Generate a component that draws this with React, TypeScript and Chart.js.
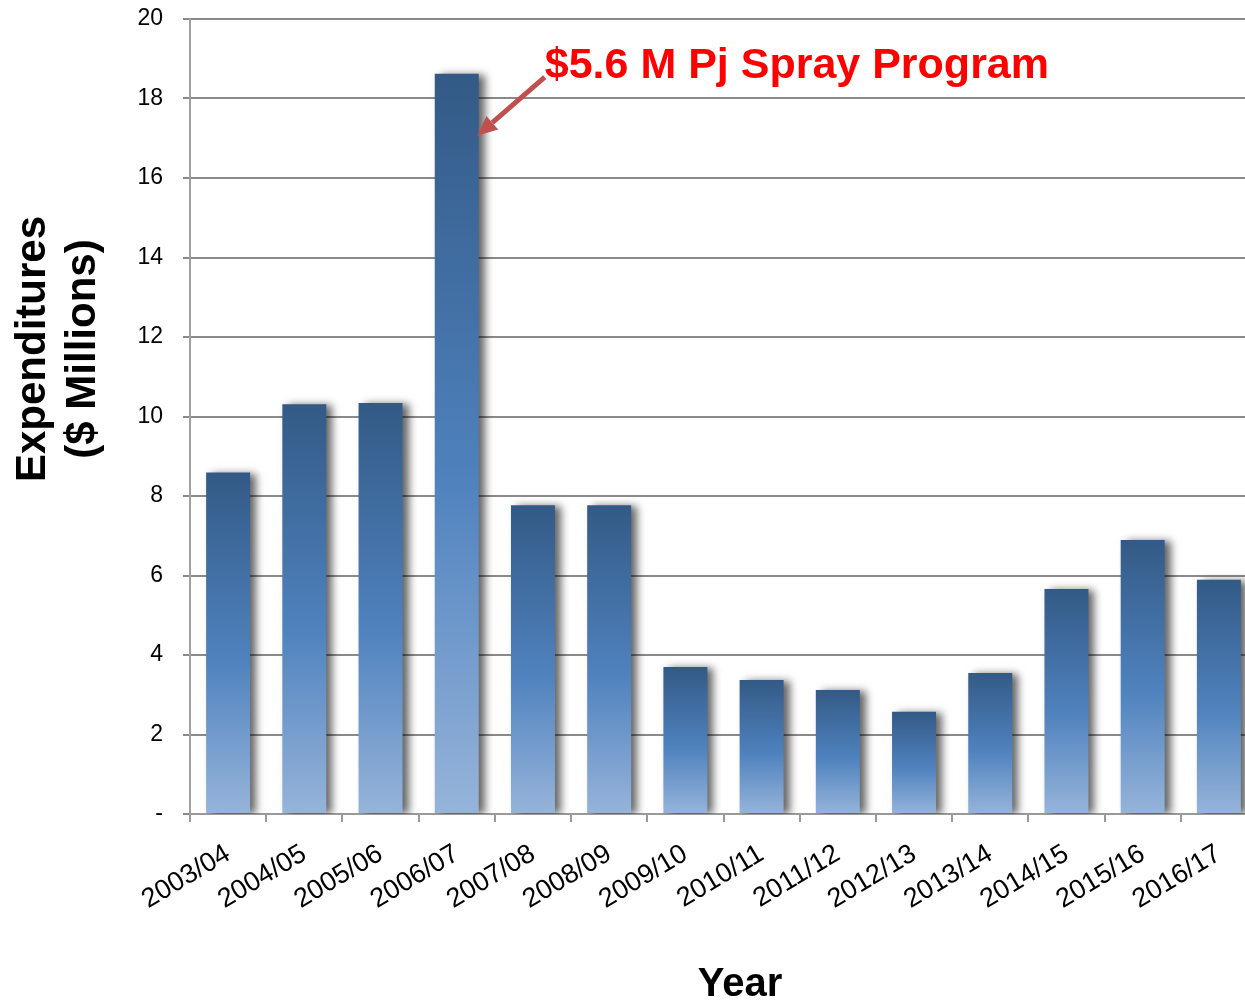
import React, { useEffect, useRef } from 'react';
import { Chart, registerables } from 'chart.js';

Chart.register(...registerables);

const FONT = "'Liberation Sans', Arial, Helvetica, sans-serif";

const categories = [
  '2003/04', '2004/05', '2005/06', '2006/07', '2007/08', '2008/09', '2009/10',
  '2010/11', '2011/12', '2012/13', '2013/14', '2014/15', '2015/16', '2016/17',
];
const expenditures = [8.59, 10.31, 10.34, 18.62, 7.77, 7.77, 3.7, 3.37, 3.12, 2.57, 3.55, 5.66, 6.89, 5.89];

const yMin = 0;
const yMax = 20;
const yStep = 2;
const zeroTickLabel = '-';

const yTitleLines = ['Expenditures', '($ Millions)'];
const xTitle = 'Year';
const annotationText = '$5.6 M Pj Spray Program';
const annotationIndex = 3;
const annotationTipValue = 17.06;
const annotationTailValue = 18.54;
const annotationTextValue = 18.52;

const BAR_PCT = 0.577;

const shadowPlugin = {
  id: 'barShadow',
  beforeDatasetsDraw(chart: any) {
    const c = chart.ctx;
    c.save();
    c.shadowColor = 'rgba(0,0,0,0.6)';
    c.shadowBlur = 8;
    c.shadowOffsetX = 6;
    c.shadowOffsetY = 1;
  },
  afterDatasetsDraw(chart: any) {
    chart.ctx.restore();
  },
};

const textPlugin = {
  id: 'texts',
  afterDraw(chart: any) {
    const { ctx } = chart;
    const x = chart.scales.x;
    const y = chart.scales.y;

    // Y title
    ctx.save();
    ctx.fillStyle = '#000';
    ctx.font = `bold 42px ${FONT}`;
    ctx.textAlign = 'center';
    ctx.textBaseline = 'middle';
    ctx.translate(58, 349);
    ctx.rotate(-Math.PI / 2);
    ctx.fillText(yTitleLines[0], 0, -25);
    ctx.fillText(yTitleLines[1], 0, 25);
    ctx.restore();

    // X title
    ctx.save();
    ctx.fillStyle = '#000';
    ctx.font = `bold 40px ${FONT}`;
    ctx.textAlign = 'center';
    ctx.textBaseline = 'alphabetic';
    ctx.fillText(xTitle, 740, 996);
    ctx.restore();

    // Annotation
    const catW = x.width / categories.length;
    const cx = x.getPixelForValue(annotationIndex);
    const barRight = cx + (catW * BAR_PCT) / 2;
    const tipX = barRight - 1.5;
    const tipY = y.getPixelForValue(annotationTipValue);
    const tailX = cx + 88;
    const tailY = y.getPixelForValue(annotationTailValue);

    ctx.save();
    ctx.strokeStyle = '#C0504D';
    ctx.fillStyle = '#C0504D';
    const ang = Math.atan2(tipY - tailY, tipX - tailX);
    const headLen = 20;
    const headHalf = 9;
    const baseX = tipX - headLen * Math.cos(ang);
    const baseY = tipY - headLen * Math.sin(ang);
    ctx.lineWidth = 5;
    ctx.beginPath();
    ctx.moveTo(tailX, tailY);
    ctx.lineTo(baseX, baseY);
    ctx.stroke();
    ctx.beginPath();
    ctx.moveTo(tipX, tipY);
    ctx.lineTo(baseX + headHalf * Math.sin(ang), baseY - headHalf * Math.cos(ang));
    ctx.lineTo(baseX - headHalf * Math.sin(ang), baseY + headHalf * Math.cos(ang));
    ctx.closePath();
    ctx.fill();
    ctx.restore();

    ctx.save();
    ctx.fillStyle = '#FF0000';
    ctx.font = `bold 43px ${FONT}`;
    ctx.textAlign = 'left';
    ctx.textBaseline = 'alphabetic';
    ctx.fillText(annotationText, cx + 88, y.getPixelForValue(annotationTextValue));
    ctx.restore();
  },
};

export default function App() {
  const ref = useRef<HTMLCanvasElement>(null);

  useEffect(() => {
    if (!ref.current) return;
    const chart = new Chart(ref.current, {
      type: 'bar',
      data: {
        labels: categories,
        datasets: [
          {
            data: expenditures,
            categoryPercentage: 1,
            barPercentage: BAR_PCT,
            borderWidth: 0,
            backgroundColor: (c: any) => {
              const ch = c.chart;
              const ys = ch.scales?.y;
              if (!ch.chartArea || !ys || c.type !== 'data') return '#4F81BD';
              const v = c.parsed ? c.parsed.y : c.raw;
              const top = ys.getPixelForValue(v);
              const bot = ys.getPixelForValue(0);
              const g = ch.ctx.createLinearGradient(0, top, 0, bot);
              g.addColorStop(0, '#335A86');
              g.addColorStop(0.55, '#4F82BE');
              g.addColorStop(1, '#96B4DA');
              return g;
            },
          },
        ],
      },
      options: {
        responsive: false,
        animation: false,
        devicePixelRatio: 1,
        layout: { padding: { top: 19, right: 3, left: 0, bottom: 0 } },
        plugins: {
          legend: { display: false },
          tooltip: { enabled: false },
          title: { display: false },
        },
        scales: {
          x: {
            afterFit: (s: any) => {
              s.height = 189;
            },
            grid: {
              display: true,
              drawOnChartArea: false,
              drawTicks: true,
              tickLength: 8,
              color: '#9a9a9a',
              lineWidth: 2,
              offset: true,
            },
            border: { display: true, color: '#9a9a9a', width: 2 },
            ticks: {
              autoSkip: false,
              minRotation: 31,
              maxRotation: 31,
              padding: 16,
              color: '#000',
              font: { family: FONT, size: 27 },
            },
          },
          y: {
            min: yMin,
            max: yMax,
            afterFit: (s: any) => {
              s.width = 190;
              s.paddingTop = 0;
              s.paddingBottom = 0;
            },
            grid: {
              color: '#8a8a8a',
              lineWidth: 2,
              tickLength: 7,
              drawTicks: true,
            },
            border: { display: true, color: '#a0a0a0', width: 2 },
            ticks: {
              stepSize: yStep,
              padding: 20,
              color: '#000',
              font: { family: FONT, size: 23 },
              callback: (v: any) => (Number(v) === 0 ? zeroTickLabel : String(v)),
            },
          },
        },
      },
      plugins: [shadowPlugin, textPlugin],
    } as any);
    return () => chart.destroy();
  }, []);

  return (
    <div style={{ position: 'absolute', left: 0, top: 0, width: 1245, height: 1003, overflow: 'hidden', background: '#fff' }}>
      <canvas ref={ref} width={1260} height={1003} style={{ display: 'block', width: 1260, height: 1003 }} />
    </div>
  );
}
